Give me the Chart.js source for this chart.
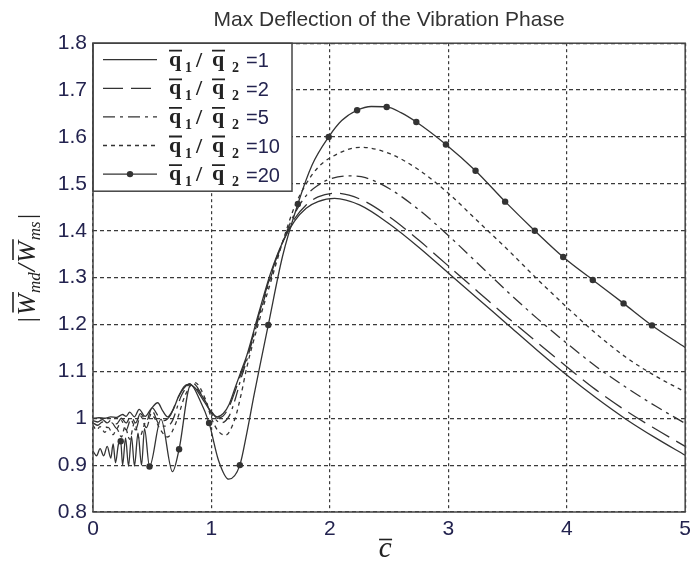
<!DOCTYPE html>
<html lang="en">
<head>
<meta charset="UTF-8">
<title>Max Deflection of the Vibration Phase</title>
<style>
    body { margin: 0; padding: 0; background: #fff; }
    #chart { display: block; }
</style>
</head>
<body>
<canvas id="chart" width="696" height="565"></canvas>

<script src="https://cdn.jsdelivr.net/npm/chart.js"></script>
<script>
// values
const ratios = ['1', '2', '5', '10', '20'];

const q1X = [0, 0.05, 0.1, 0.15, 0.2, 0.25, 0.28, 0.31, 0.35, 0.39, 0.44, 0.49, 0.546, 0.59, 0.63, 0.68, 0.72, 0.77, 0.81, 0.86, 0.92, 0.98, 1.048, 1.1, 1.15, 1.2, 1.25, 1.3, 1.4, 1.5, 1.6, 1.7, 1.8, 1.9, 2.04, 2.25, 2.5, 2.75, 3.0, 3.25, 3.5, 3.75, 4.0, 4.25, 4.5, 4.75, 5.0];
const q1Y = [1.0, 1.001, 1.0, 1.003, 1.002, 1.008, 1.004, 1.013, 1.003, 1.019, 1.004, 1.02, 1.033, 1.015, 1.003, 1.02, 1.045, 1.068, 1.072, 1.065, 1.043, 1.02, 1.003, 1.01, 1.03, 1.065, 1.10, 1.135, 1.225, 1.31, 1.375, 1.42, 1.448, 1.462, 1.469, 1.455, 1.415, 1.365, 1.31, 1.255, 1.2, 1.145, 1.092, 1.043, 0.998, 0.958, 0.921];

const q2X = [0, 0.04, 0.08, 0.12, 0.16, 0.2, 0.24, 0.28, 0.32, 0.36, 0.4, 0.45, 0.5, 0.55, 0.6, 0.65, 0.72, 0.77, 0.82, 0.88, 0.94, 1.0, 1.05, 1.1, 1.15, 1.2, 1.25, 1.3, 1.4, 1.5, 1.6, 1.7, 1.8, 1.9, 2.05, 2.25, 2.5, 2.75, 3.0, 3.25, 3.5, 3.75, 4.0, 4.25, 4.5, 4.75, 5.0];
const q2Y = [0.995, 0.992, 0.997, 0.99, 0.998, 0.988, 1.0, 0.99, 1.005, 0.99, 1.01, 0.995, 1.022, 1.005, 0.995, 1.005, 1.045, 1.065, 1.074, 1.062, 1.04, 1.015, 1.0, 1.005, 1.025, 1.058, 1.095, 1.13, 1.22, 1.305, 1.375, 1.425, 1.455, 1.472, 1.48, 1.468, 1.43, 1.38, 1.325, 1.27, 1.215, 1.162, 1.11, 1.06, 1.016, 0.977, 0.94];

const q5X = [0, 0.04, 0.08, 0.12, 0.16, 0.2, 0.24, 0.28, 0.32, 0.36, 0.4, 0.45, 0.5, 0.55, 0.6, 0.66, 0.75, 0.84, 0.92, 1.0, 1.08, 1.15, 1.2, 1.25, 1.3, 1.4, 1.5, 1.6, 1.7, 1.8, 1.9, 2.0, 2.15, 2.3, 2.5, 2.75, 3.0, 3.25, 3.5, 3.75, 4.0, 4.25, 4.5, 4.75, 5.0];
const q5Y = [0.99, 0.985, 0.992, 0.98, 0.99, 0.978, 0.995, 0.975, 0.998, 0.975, 1.005, 0.98, 1.015, 0.99, 0.983, 0.99, 1.05, 1.075, 1.05, 1.01, 0.99, 1.005, 1.04, 1.085, 1.125, 1.215, 1.3, 1.375, 1.435, 1.475, 1.497, 1.51, 1.517, 1.513, 1.49, 1.445, 1.39, 1.33, 1.27, 1.213, 1.16, 1.11, 1.066, 1.026, 0.989];

const q10X = [0, 0.03, 0.06, 0.1, 0.13, 0.17, 0.2, 0.24, 0.27, 0.31, 0.35, 0.39, 0.44, 0.5, 0.57, 0.63, 0.7, 0.78, 0.86, 0.95, 1.0, 1.06, 1.12, 1.2, 1.25, 1.3, 1.4, 1.5, 1.6, 1.7, 1.8, 1.9, 2.0, 2.26, 2.5, 2.75, 3.0, 3.25, 3.5, 3.75, 4.0, 4.25, 4.5, 4.75, 5.0];
const q10Y = [0.985, 0.975, 0.982, 0.97, 0.98, 0.965, 0.978, 0.96, 0.982, 0.955, 0.99, 0.958, 0.99, 1.005, 0.975, 0.96, 0.99, 1.05, 1.076, 1.04, 1.0, 0.972, 0.964, 1.0, 1.05, 1.11, 1.205, 1.29, 1.375, 1.45, 1.5, 1.535, 1.555, 1.578, 1.565, 1.53, 1.48, 1.42, 1.36, 1.297, 1.237, 1.18, 1.13, 1.09, 1.056];

const q20X = [0, 0.03, 0.06, 0.09, 0.12, 0.15, 0.17, 0.19, 0.215, 0.234, 0.25, 0.275, 0.3, 0.325, 0.35, 0.38, 0.41, 0.435, 0.477, 0.574, 0.671, 0.727, 0.825, 0.9, 0.98, 1.06, 1.146, 1.24, 1.3, 1.36, 1.42, 1.48, 1.6, 1.73, 1.85, 1.99, 2.1, 2.23, 2.35, 2.48, 2.6, 2.73, 2.98, 3.23, 3.48, 3.73, 3.97, 4.22, 4.48, 4.72, 5.0];
const q20Y = [0.93, 0.92, 0.935, 0.92, 0.94, 0.915, 0.945, 0.905, 0.945, 0.951, 0.9, 0.958, 0.898, 0.962, 0.898, 0.968, 0.9, 0.978, 0.897, 0.998, 0.886, 0.934, 1.071, 1.04, 0.99, 0.91, 0.87, 0.9, 0.97, 1.05, 1.125, 1.199, 1.345, 1.457, 1.54, 1.6, 1.635, 1.657, 1.665, 1.664, 1.652, 1.632, 1.584, 1.528, 1.462, 1.4, 1.344, 1.295, 1.245, 1.198, 1.151];
// c values where the q=20 curve carries a marker
const q20Marks = [0.234, 0.477, 0.727, 0.98, 1.24, 1.48, 1.73, 1.99, 2.23, 2.48, 2.73, 2.98, 3.23, 3.48, 3.73, 3.97, 4.22, 4.48, 4.72];

const xTicks = [0, 1, 2, 3, 4, 5];
const yTicks = [0.8, 0.9, 1.0, 1.1, 1.2, 1.3, 1.4, 1.5, 1.6, 1.7, 1.8];

const seriesX = [q1X, q2X, q5X, q10X, q20X];
const seriesY = [q1Y, q2Y, q5Y, q10Y, q20Y];

// look
const ink = '#333333';
const tickInk = '#23234f';
const dashes = [[], [20, 8], [12, 5, 3, 5], [4, 4], []];
const sans = '"Liberation Sans", Arial, sans-serif';
const serif = '"Liberation Serif", "DejaVu Serif", serif';

function toPoints(xs, ys) {
    return xs.map((x, i) => ({ x: x, y: ys[i] }));
}

const datasets = ratios.map((r, i) => ({
    label: 'q1/q2=' + r,
    data: toPoints(seriesX[i], seriesY[i]),
    borderColor: ink,
    backgroundColor: ink,
    borderWidth: 1.3,
    borderDash: dashes[i],
    cubicInterpolationMode: 'monotone',
    fill: false,
    pointStyle: 'circle',
    pointBorderWidth: 0,
    pointRadius: i === 4 ? (ctx => (ctx.raw && q20Marks.includes(ctx.raw.x)) ? 3.2 : 0) : 0
}));

// white box with sample lines in the top left corner of the plot
const legendBox = {
    id: 'legendBox',
    afterDatasetsDraw(chart) {
        const ctx = chart.ctx;
        const a = chart.chartArea;
        const x0 = a.left, y0 = a.top, w = 199, h = 148;
        ctx.save();
        ctx.fillStyle = '#fff';
        ctx.fillRect(x0, y0, w, h);
        ctx.strokeStyle = '#444';
        ctx.lineWidth = 1.5;
        ctx.strokeRect(x0, y0, w, h);

        ratios.forEach((r, i) => {
            const yc = y0 + 16.5 + i * 28.6;
            ctx.strokeStyle = ink;
            ctx.lineWidth = 1.3;
            ctx.setLineDash(dashes[i]);
            ctx.beginPath();
            ctx.moveTo(x0 + 10, yc);
            ctx.lineTo(x0 + 64, yc);
            ctx.stroke();
            ctx.setLineDash([]);
            if (i === 4) {
                ctx.fillStyle = ink;
                ctx.beginPath();
                ctx.arc(x0 + 37, yc, 3.2, 0, Math.PI * 2);
                ctx.fill();
            }

            const tx = x0 + 77;
            ctx.fillStyle = '#222';
            ctx.textBaseline = 'alphabetic';
            ctx.textAlign = 'left';
            ctx.font = 'bold 22px ' + serif;
            ctx.fillText('q', tx - 1, yc + 6);
            ctx.fillText('/', tx + 26, yc + 7);
            ctx.fillText('q', tx + 42, yc + 6);
            ctx.font = 'bold 14px ' + serif;
            ctx.fillText('1', tx + 15, yc + 12);
            ctx.fillText('2', tx + 62, yc + 12);
            ctx.strokeStyle = '#222';
            ctx.lineWidth = 1.8;
            ctx.beginPath();
            ctx.moveTo(tx - 1, yc - 9); ctx.lineTo(tx + 12, yc - 9);
            ctx.moveTo(tx + 42, yc - 9); ctx.lineTo(tx + 55, yc - 9);
            ctx.stroke();
            ctx.fillStyle = tickInk;
            ctx.font = '20px ' + sans;
            ctx.fillText('=' + r, tx + 76, yc + 7.5);
        });
        ctx.restore();
    }
};

// frame, axis titles
const frameAndLabels = {
    id: 'frameAndLabels',
    afterDraw(chart) {
        const ctx = chart.ctx;
        const a = chart.chartArea;
        ctx.save();
        ctx.strokeStyle = '#444';
        ctx.lineWidth = 1.5;
        ctx.setLineDash([]);
        ctx.strokeRect(a.left, a.top, a.right - a.left, a.bottom - a.top);

        // x title: c with a bar
        const cx = (a.left + a.right) / 2 - 4;
        ctx.fillStyle = '#222';
        ctx.font = 'italic 29px ' + serif;
        ctx.textAlign = 'center';
        ctx.textBaseline = 'alphabetic';
        ctx.fillText('c', cx, 557);
        ctx.strokeStyle = '#222';
        ctx.lineWidth = 1.6;
        ctx.beginPath();
        ctx.moveTo(cx - 6, 539.5); ctx.lineTo(cx + 7, 539.5);
        ctx.stroke();

        // y title: |W_md / W_ms|, rotated
        const big = 'italic 26px ' + serif;
        const small = 'italic 17px ' + serif;
        const runs = [
            ['|', big, 0, false], ['W', big, 0, true], ['md', small, 5, false],
            ['/', big, 0, false], ['W', big, 0, true], ['ms', small, 5, false], ['|', big, 0, false]
        ];
        let total = 0;
        runs.forEach(r => { ctx.font = r[1]; r.push(ctx.measureText(r[0]).width + 1); total += r[4]; });
        ctx.translate(35, 268);
        ctx.rotate(-Math.PI / 2);
        ctx.textAlign = 'left';
        let px = -total / 2;
        runs.forEach(r => {
            ctx.font = r[1];
            ctx.fillText(r[0], px, r[2]);
            if (r[3]) {
                ctx.beginPath();
                ctx.moveTo(px + 3, -22); ctx.lineTo(px + r[4] + 1, -22);
                ctx.stroke();
            }
            px += r[4];
        });
        ctx.restore();
    }
};

new Chart(document.getElementById('chart'), {
    type: 'line',
    data: { datasets: datasets },
    plugins: [legendBox, frameAndLabels],
    options: {
        responsive: false,
        animation: false,
        layout: { padding: { left: 0, right: 5, top: 0, bottom: 0 } },
        plugins: {
            legend: { display: false },
            tooltip: { enabled: false },
            title: {
                display: true,
                text: 'Max Deflection of the Vibration Phase',
                fullSize: false,
                color: '#333',
                font: { family: sans, size: 21, weight: 'normal' },
                padding: { top: 8, bottom: 10 }
            }
        },
        scales: {
            x: {
                type: 'linear',
                min: 0,
                max: 5,
                afterBuildTicks: s => { s.ticks = xTicks.map(v => ({ value: v })); },
                afterFit: s => { s.height = 53; },
                ticks: {
                    color: tickInk,
                    font: { family: sans, size: 21 },
                    padding: 5,
                    maxRotation: 0,
                    callback: v => String(v)
                },
                grid: { color: '#3a3a3a', lineWidth: 1.2, drawTicks: false },
                border: { display: false, dash: [3, 3] }
            },
            y: {
                type: 'linear',
                min: 0.8,
                max: 1.8,
                afterBuildTicks: s => { s.ticks = yTicks.map(v => ({ value: v })); },
                afterFit: s => { s.width = 93; },
                ticks: {
                    color: tickInk,
                    font: { family: sans, size: 21 },
                    padding: 6,
                    callback: v => String(Math.round(v * 10) / 10)
                },
                grid: { color: '#3a3a3a', lineWidth: 1.2, drawTicks: false },
                border: { display: false, dash: [4, 3] }
            }
        }
    }
});
</script>
</body>
</html>
